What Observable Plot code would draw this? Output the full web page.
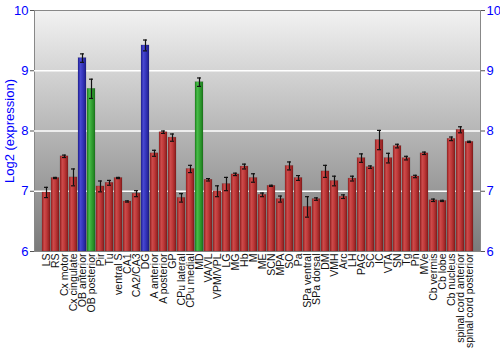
<!DOCTYPE html>
<html>
<head>
<meta charset="utf-8">
<script src="https://cdn.jsdelivr.net/npm/d3@7"></script>
<script src="https://cdn.jsdelivr.net/npm/@observablehq/plot@0.6"></script>
<style>
  html, body { margin: 0; padding: 0; background: #fff; }
  #chart svg { display: block; font-family: "Liberation Sans", Arial, sans-serif; }
</style>
</head>
<body>
<div id="chart"></div>
<script>
const regions = ["LS","RS","Cx motor","Cx cingulate","OB anterior","OB posterior","Pir","Tu","ventral S","CA1","CA2/CA3","DG","A anterior","A posterior","GP","CPu lateral","CPu medial","MD","VA/VL","VPM/VPL","LG","MG","Hb","M","ME","SCN","MPA","SO","Pa","SPa ventral","SPa dorsal","DM","VMH","Arc","LH","PAG","SC","IC","VTA","SN","Tg","Pn","MVe","Cb vermis","Cb lobe","Cb nucleus","spinal cord anterior","spinal cord posterior"];
const values = [6.98,7.22,7.58,7.23,9.21,8.70,7.08,7.14,7.22,6.83,6.96,9.42,7.63,7.98,7.89,6.89,7.37,8.81,7.19,7.00,7.12,7.28,7.41,7.22,6.94,7.09,6.87,7.42,7.22,6.74,6.87,7.33,7.17,6.91,7.21,7.55,7.40,7.85,7.55,7.75,7.55,7.245,7.63,6.85,6.84,7.87,8.02,7.82];
const errors = [0.085,0.01,0.02,0.14,0.07,0.16,0.09,0.04,0.01,0.01,0.05,0.09,0.05,0.02,0.06,0.07,0.06,0.07,0.02,0.09,0.11,0.02,0.04,0.07,0.03,0.01,0.05,0.066,0.04,0.17,0.02,0.1,0.08,0.03,0.04,0.07,0.02,0.16,0.08,0.03,0.03,0.02,0.02,0.02,0.01,0.03,0.05,0.01];
const groups = ["r","r","r","r","b","g","r","r","r","r","r","b","r","r","r","r","r","g","r","r","r","r","r","r","r","r","r","r","r","r","r","r","r","r","r","r","r","r","r","r","r","r","r","r","r","r","r","r"];
const yTicks = [6,7,8,9,10];
const gridLines = [7,8,9];

const fills = {r: "url(#gRed)", b: "url(#gBlue)", g: "url(#gGreen)"};
const data = regions.map((name, i) => ({name, value: values[i], err: errors[i], fill: fills[groups[i]]}));

const plot = Plot.plot({
  width: 500,
  height: 350,
  marginLeft: 34,
  marginRight: 20,
  marginTop: 10,
  marginBottom: 99,
  style: {fontFamily: "Liberation Sans, Arial, sans-serif", background: "white"},
  x: {domain: regions, padding: 0.12, label: null},
  y: {domain: [6, 10], label: null},
  color: {type: "identity"},
  marks: [
    Plot.frame({fill: "url(#gBg)", stroke: "#888", strokeWidth: 1}),
    Plot.ruleY(gridLines, {stroke: "white", strokeWidth: 1.5}),
    Plot.barY(data, {x: "name", y1: 6, y2: "value", fill: "fill", stroke: "#00000033", strokeWidth: 0.6}),
    Plot.ruleX(data, {x: "name", y1: d => d.value - d.err, y2: d => d.value + d.err, stroke: "#111", strokeWidth: 1.2}),
    Plot.tickY(data, {x: "name", y: d => d.value - d.err, stroke: "#111", strokeWidth: 1.2, insetLeft: 2, insetRight: 2}),
    Plot.tickY(data, {x: "name", y: d => d.value + d.err, stroke: "#111", strokeWidth: 1.2, insetLeft: 2, insetRight: 2}),
    Plot.axisY({anchor: "left", ticks: yTicks, tickFormat: d => d, tickSize: 4, stroke: "#555", color: "blue", fontSize: 13, tickPadding: 2, label: "Log2 (expression)", labelAnchor: "center", labelOffset: 30, labelArrow: "none"}),
    Plot.axisY({anchor: "right", ticks: yTicks, tickFormat: d => d, tickSize: 4, stroke: "#555", color: "blue", fontSize: 13, tickPadding: 2, label: null}),
    Plot.axisX({tickRotate: -90, tickSize: 0, tickPadding: 2, fontSize: 10.5, color: "#111", label: null})
  ]
});

const svg = d3.select(plot);
const defs = svg.insert("defs", ":first-child");
function hgrad(id, stops) {
  const g = defs.append("linearGradient").attr("id", id).attr("x1", "0").attr("y1", "0").attr("x2", "1").attr("y2", "0");
  stops.forEach(([o, c]) => g.append("stop").attr("offset", o).attr("stop-color", c));
}
hgrad("gRed", [["0", "#9c2424"], ["0.3", "#cc4a4a"], ["0.55", "#c03a3a"], ["1", "#8a1c1c"]]);
hgrad("gBlue", [["0", "#22229a"], ["0.3", "#4848d0"], ["0.55", "#3838c0"], ["1", "#1e1e8a"]]);
hgrad("gGreen", [["0", "#1f8a1f"], ["0.3", "#48bb48"], ["0.55", "#35a535"], ["1", "#1c7a1c"]]);
const bg = defs.append("linearGradient").attr("id", "gBg").attr("x1", "0").attr("y1", "0").attr("x2", "0").attr("y2", "1");
bg.append("stop").attr("offset", "0").attr("stop-color", "#f2f2f2");
bg.append("stop").attr("offset", "1").attr("stop-color", "#7a7a7a");

document.getElementById("chart").appendChild(plot);
</script>
</body>
</html>
